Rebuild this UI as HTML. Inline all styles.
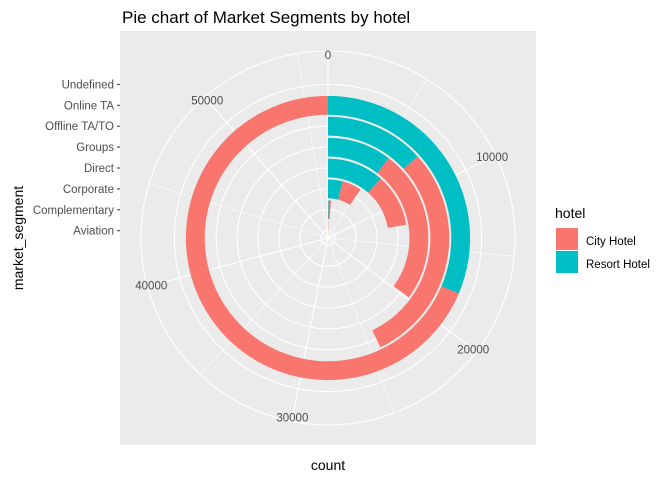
<!DOCTYPE html>
<html><head><meta charset="utf-8"><style>
body{margin:0;background:#fff;font-family:"Liberation Sans",Arial,sans-serif;}
svg text{font-family:"Liberation Sans",Arial,sans-serif;}
</style></head><body>
<svg id="chart" width="672" height="480" xmlns="http://www.w3.org/2000/svg">
<rect width="672" height="480" fill="#fff"/>
<text x="122" y="23" font-size="17" fill="#000">Pie chart of Market Segments by hotel</text>
<rect x="120" y="31" width="416" height="414" fill="#EBEBEB"/>
<g id="grid"></g>
<g id="bars"></g>
<g id="labels"></g>
<text x="328" y="470" font-size="14" text-anchor="middle" fill="#000">count</text>
<text transform="translate(23,238) rotate(-90)" font-size="14" text-anchor="middle" fill="#000">market_segment</text>
<g>
<text x="555" y="218" font-size="14" fill="#000">hotel</text>
<rect x="556" y="228" width="22" height="22" fill="#F8766D"/>
<rect x="556" y="251" width="22" height="22" fill="#00BFC4"/>
<text x="586" y="245" font-size="11.5" fill="#000">City Hotel</text>
<text x="586" y="268" font-size="11.5" fill="#000">Resort Hotel</text>
</g>
</svg>
<script>
const categories = ["Aviation","Complementary","Corporate","Direct","Groups","Offline TA/TO","Online TA","Undefined"];
const resortCounts = [0, 201, 2309, 6513, 5836, 7472, 17729, 0];
const cityCounts = [237, 542, 2986, 6093, 13975, 16747, 38748, 2];
const thetaTicks = [0, 10000, 20000, 30000, 40000, 50000];
const thetaMinor = [5000, 15000, 25000, 35000, 45000, 55000];

const NS = "http://www.w3.org/2000/svg";
const cx = 328, cy = 238;
let total = 0;
for (let i = 0; i < categories.length; i++) total = Math.max(total, resortCounts[i] + cityCounts[i]);
function rScale(x){ return 7.3 + (x - 1) * 20.9; }
function ang(v){ return v / total * 2 * Math.PI; }
function pt(r, a){ return [cx + r * Math.sin(a), cy - r * Math.cos(a)]; }
const rOuter = 187;

const grid = document.getElementById('grid');
function line(r1, r2, a, w, name){
  const [x1,y1] = pt(r1,a), [x2,y2] = pt(r2,a);
  const l = document.createElementNS(NS,'line');
  l.setAttribute('x1',x1);l.setAttribute('y1',y1);l.setAttribute('x2',x2);l.setAttribute('y2',y2);
  l.setAttribute('stroke','#fff');l.setAttribute('stroke-width',w);
  
  
  grid.appendChild(l);
}
thetaMinor.forEach(v => line(0, rOuter, ang(v), 0.6, 'theta-minor-gridline'));
thetaTicks.forEach(v => line(0, rOuter, ang(v), 1.1, 'theta-major-gridline'));
function circ(r, w, name){
  const c = document.createElementNS(NS,'circle');
  c.setAttribute('cx',cx);c.setAttribute('cy',cy);c.setAttribute('r',r);
  c.setAttribute('fill','none');c.setAttribute('stroke','#fff');c.setAttribute('stroke-width',w);
  
  
  grid.appendChild(c);
}
categories.forEach((c,i) => circ(rScale(i+1), 1.1, 'r-gridline'));
circ(rOuter, 1.1, 'outer-gridline');

const bars = document.getElementById('bars');
function sector(r0, r1, v0, v1, color, name){
  if (v1 <= v0) return;
  const a0 = ang(v0), a1 = ang(v1);
  const large = (a1 - a0) > Math.PI ? 1 : 0;
  const p0 = pt(r1,a0), p1 = pt(r1,a1), p2 = pt(r0,a1), p3 = pt(r0,a0);
  const d = `M${p0[0]},${p0[1]} A${r1},${r1} 0 ${large} 1 ${p1[0]},${p1[1]} L${p2[0]},${p2[1]} A${r0},${r0} 0 ${large} 0 ${p3[0]},${p3[1]} Z`;
  const p = document.createElementNS(NS,'path');
  p.setAttribute('d',d);p.setAttribute('fill',color);
  
  
  bars.appendChild(p);
}
categories.forEach((c,i) => {
  const r0 = rScale(i+1 - 0.45), r1 = rScale(i+1 + 0.45);
  sector(r0, r1, 0, resortCounts[i], '#00BFC4', 'bar-resort-' + i);
  sector(r0, r1, resortCounts[i], resortCounts[i] + cityCounts[i], '#F8766D', 'bar-city-' + i);
});

const labels = document.getElementById('labels');
thetaTicks.forEach(v => {
  const [x,y] = pt(183, ang(v));
  const t = document.createElementNS(NS,'text');
  t.setAttribute('x',x);t.setAttribute('y',y+4);t.setAttribute('text-anchor','middle');
  t.setAttribute('font-size','11.5');t.setAttribute('fill','#4D4D4D');
  t.textContent = v;
  
  
  labels.appendChild(t);
});
categories.forEach((c,i) => {
  const y = cy - rScale(i+1);
  const t = document.createElementNS(NS,'text');
  t.setAttribute('x',114);t.setAttribute('y',y+4);t.setAttribute('text-anchor','end');
  t.setAttribute('font-size','11.5');t.setAttribute('fill','#4D4D4D');
  t.textContent = c;
  
  
  labels.appendChild(t);
  const tk = document.createElementNS(NS,'line');
  tk.setAttribute('x1',117);tk.setAttribute('x2',120);tk.setAttribute('y1',y);tk.setAttribute('y2',y);
  tk.setAttribute('stroke','#333');tk.setAttribute('stroke-width',1);
  
  
  labels.appendChild(tk);
});
</script>
</body></html>
